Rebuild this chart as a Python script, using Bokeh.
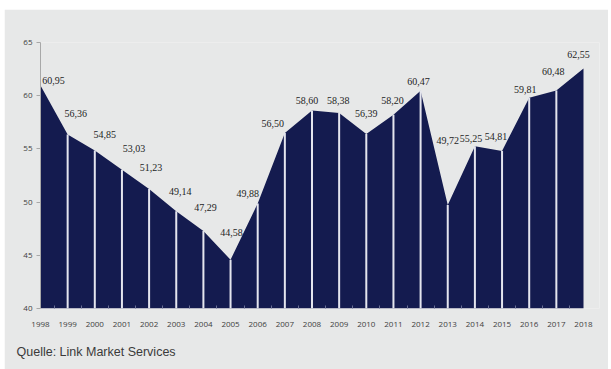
from bokeh.plotting import figure
from bokeh.models import FixedTicker, Range1d, ColumnDataSource, LabelSet, Title
from bokeh.embed import file_html
from bokeh.resources import INLINE

years = list(range(1998, 2019))
values = [60.95, 56.36, 54.85, 53.03, 51.23, 49.14, 47.29, 44.58, 49.88, 56.50,
          58.60, 58.38, 56.39, 58.20, 60.47, 49.72, 55.25, 54.81, 59.81, 60.48, 62.55]
value_labels = [f"{v:.2f}".replace(".", ",") for v in values]
y_ticks = [40, 45, 50, 55, 60, 65]
source_text = "Quelle: Link Market Services"

# label placement (screen pixel offsets, layout only; positive = up)
label_dx = [13, 8, 10, 12, 2, 4, 2, 1, -10, -12, -5, -1, 0, -1, -2, 0, -4, -6, -4, -3, -5]
label_dy = [5, 21, 16, 21, 22, 20, 23, 27, 10, 9, 10, 12, 21, 14, 9, 65, 8, 14, 8, 19, 14]

NAVY = "#141b4f"
BG = "#e7e8e8"

# frame reaches ~16px past 2018 so the last label isn't clipped
x_pad = 16 / 27.15
p = figure(frame_width=559, frame_height=266, output_backend="svg", toolbar_location=None,
           x_range=Range1d(years[0], years[-1] + x_pad), y_range=Range1d(40, 65),
           min_border_left=36, min_border_right=9, min_border_top=33, min_border_bottom=61,
           background_fill_color=BG, border_fill_color=BG, outline_line_color=None)
p.margin = (9, 3, 0, 4)

src = ColumnDataSource(dict(x=years, y=values, lab=value_labels, dx=label_dx, dy=label_dy))

p.varea(x=years, y1=[40] * len(years), y2=values, fill_color=NAVY, fill_alpha=1)
inner = years[1:-1]
p.segment(x0=inner, y0=[40] * len(inner), x1=inner, y1=values[1:-1],
          line_color="#e4e5ee", line_width=2)

labels = LabelSet(x="x", y="y", text="lab", x_offset="dx", y_offset="dy", source=src,
                  text_align="center", text_baseline="middle", text_font="Open Sans",
                  text_font_size="10px", text_color="#1e1e1e")
p.add_layout(labels)

p.xgrid.visible = False
p.ygrid.visible = False

p.xaxis.ticker = FixedTicker(ticks=years, minor_ticks=[y + 0.5 for y in years[:-1]])
p.xaxis.axis_line_color = None
p.xaxis.major_tick_line_color = None
p.xaxis.minor_tick_in = 3
p.xaxis.minor_tick_out = 0
p.xaxis.minor_tick_line_color = "#6a7095"
p.xaxis.major_label_standoff = 7
p.xaxis.major_label_text_font = "Open Sans"
p.xaxis.major_label_text_font_size = "8px"
p.xaxis.major_label_text_color = "#404040"

p.yaxis.ticker = FixedTicker(ticks=y_ticks)
p.yaxis.axis_line_color = "#a8a8a8"
p.yaxis.major_tick_line_color = "#a8a8a8"
p.yaxis.major_tick_out = 4
p.yaxis.major_tick_in = 0
p.yaxis.minor_tick_line_color = None
p.yaxis.major_label_standoff = 4
p.yaxis.major_label_text_font = "Open Sans"
p.yaxis.major_label_text_font_size = "8px"
p.yaxis.major_label_text_color = "#404040"

p.add_layout(Title(text=source_text, align="left", offset=-24, standoff=27,
                   text_font="Liberation Sans", text_font_size="12.5px",
                   text_font_style="normal", text_color="#3a3a3a"), "below")

open("out.html", "w").write(file_html(p, INLINE))
